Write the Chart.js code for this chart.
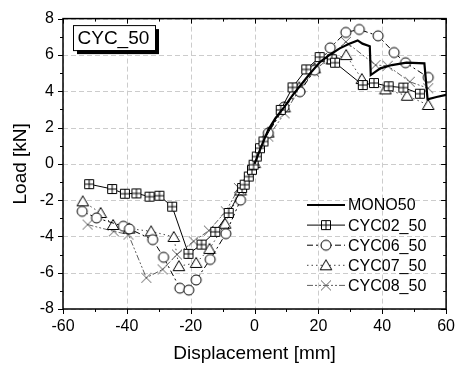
<!DOCTYPE html>
<html>
<head>
<meta charset="utf-8">
<script src="https://cdn.jsdelivr.net/npm/chart.js@4"></script>
<style>
  html, body { margin: 0; padding: 0; background: #fff; }
  canvas { display: block; }
</style>
</head>
<body>
<canvas id="chart" width="463" height="365"></canvas>
<script>
// Values
const xTicks = [-60, -40, -20, 0, 20, 40, 60];
const yTicks = [-8, -6, -4, -2, 0, 2, 4, 6, 8];

const monoX = [0, 1, 2, 3, 4.3, 6.5, 9.4, 12, 14.5, 17.5, 20.6, 23.5, 26.7, 29.5, 32.3, 33.8, 36.1, 36.4, 39.4, 43, 47.6, 53.2, 54.2, 57, 60];
const monoY = [0, 0.45, 0.9, 1.33, 1.87, 2.5, 3.15, 3.8, 4.34, 5.0, 5.62, 6.0, 6.36, 6.6, 6.8, 6.62, 6.48, 4.89, 5.26, 5.44, 5.57, 5.53, 3.55, 3.68, 3.8];

const cyc02X = [-51.8, -44.6, -40.6, -37, -32.9, -29.8, -25.8, -20.7, -16.6, -12.3, -8.1, -3.9, -3.1, -1.8, -0.8, -0.3, 0.7, 1.7, 2.8, 8.2, 11.9, 16.2, 20.4, 24.2, 25.2, 33.9, 37.4, 42, 46.6, 51.8];
const cyc02Y = [-1.12, -1.39, -1.65, -1.63, -1.81, -1.76, -2.36, -4.96, -4.45, -3.75, -2.71, -1.33, -1.15, -0.7, -0.33, -0.05, 0.4, 0.86, 1.23, 2.97, 4.21, 5.2, 5.88, 5.76, 5.57, 4.34, 4.45, 4.27, 4.2, 3.86];

const cyc06X = [-54, -49.5, -41.1, -39.2, -31.9, -28.5, -23.4, -20.6, -18.3, -13.9, -9, -4.4, 4.3, 9.2, 14.2, 18.8, 23.7, 28.6, 32.8, 38.7, 43.7, 47.3, 54.4];
const cyc06Y = [-2.62, -2.98, -3.44, -3.59, -4.18, -5.15, -6.85, -6.96, -6.4, -5.27, -3.85, -2.0, 1.69, 3.12, 3.97, 5.16, 6.39, 7.24, 7.4, 7.05, 6.13, 5.57, 4.76];

const cyc07X = [-53.8, -48.2, -44.3, -39.3, -32.4, -25.3, -23.7, -18.3, -14.1, -9.2, -4.4, 0, 4.3, 9.4, 14, 18.8, 24.2, 28.7, 33.6, 41, 47.8, 54.4];
const cyc07Y = [-2.07, -2.71, -3.37, -3.57, -3.72, -4.03, -5.64, -5.46, -4.69, -3.3, -1.47, 0.04, 1.72, 3.11, 4.21, 5.26, 5.75, 5.99, 4.67, 4.1, 3.75, 3.24];

const cyc08X = [-52.3, -44.1, -39.5, -33.9, -28.8, -24.3, -19.1, -14.3, -9, -4.9, 4.3, 9.4, 14.3, 18.6, 24.7, 28.6, 37.9, 41.7, 48.6, 54.4];
const cyc08Y = [-3.35, -3.72, -3.9, -6.28, -5.82, -5.0, -4.27, -3.68, -2.62, -1.34, 1.5, 2.78, 4.16, 5.07, 6.08, 6.72, 5.44, 5.4, 4.52, 4.16];

const seriesNames = ['MONO50', 'CYC02_50', 'CYC06_50', 'CYC07_50', 'CYC08_50'];
const chartTitle = 'CYC_50';

const FONT = '"Liberation Sans", Arial, sans-serif';
const GRAY = '#606060';

function pts(xs, ys) {
    return xs.map((x, i) => ({ x: x, y: ys[i] }));
}

// Marker images (used for points and in the legend)
function makeMarker(kind, color) {
    const s = 14;
    const c = document.createElement('canvas');
    c.width = s; c.height = s;
    const g = c.getContext('2d');
    const m = s / 2;
    g.strokeStyle = color;
    g.fillStyle = '#fff';
    g.lineWidth = 1;
    g.beginPath();
    if (kind === 'sqcross') {
        g.rect(m - 4.5, m - 4.5, 9, 9);
        g.fill(); g.stroke();
        g.beginPath();
        g.moveTo(m, m - 4.5); g.lineTo(m, m + 4.5);
        g.moveTo(m - 4.5, m); g.lineTo(m + 4.5, m);
        g.stroke();
    } else if (kind === 'circle') {
        g.arc(m, m, 5, 0, Math.PI * 2);
        g.fill(); g.stroke();
    } else if (kind === 'triangle') {
        g.moveTo(m, m - 5.5);
        g.lineTo(m + 5.8, m + 4.5);
        g.lineTo(m - 5.8, m + 4.5);
        g.closePath();
        g.fill(); g.stroke();
    } else if (kind === 'x') {
        g.moveTo(m - 5, m - 5); g.lineTo(m + 5, m + 5);
        g.moveTo(m + 5, m - 5); g.lineTo(m - 5, m + 5);
        g.stroke();
    }
    return c;
}

const mkSq = makeMarker('sqcross', '#000');
const mkCi = makeMarker('circle', '#000');
const mkTr = makeMarker('triangle', '#000');
const mkX = makeMarker('x', GRAY);

const datasets = [
    {
        label: seriesNames[0], data: pts(monoX, monoY),
        borderColor: '#000', borderWidth: 2.2, pointRadius: 0, order: 0
    },
    {
        label: seriesNames[1], data: pts(cyc02X, cyc02Y),
        borderColor: '#000', borderWidth: 1, pointStyle: mkSq, pointRadius: 5, order: 1
    },
    {
        label: seriesNames[2], data: pts(cyc06X, cyc06Y),
        borderColor: '#000', borderWidth: 1, borderDash: [6, 3, 2, 3], pointStyle: mkCi, pointRadius: 5, order: 2
    },
    {
        label: seriesNames[3], data: pts(cyc07X, cyc07Y),
        borderColor: '#444', borderWidth: 1, borderDash: [1.5, 3], pointStyle: mkTr, pointRadius: 5, order: 3
    },
    {
        label: seriesNames[4], data: pts(cyc08X, cyc08Y),
        borderColor: GRAY, borderWidth: 1, borderDash: [6, 2, 2, 2, 2, 2], pointStyle: mkX, pointRadius: 5, order: 4
    }
];
const legendMarkers = [null, mkSq, mkCi, mkTr, mkX];

// Dashed grid under the data
const dashedGrid = {
    id: 'dashedGrid',
    beforeDatasetsDraw(chart) {
        const ctx = chart.ctx;
        const a = chart.chartArea;
        const sx = chart.scales.x, sy = chart.scales.y;
        ctx.save();
        ctx.strokeStyle = '#cccccc';
        ctx.lineWidth = 1;
        ctx.setLineDash([5, 3]);
        ctx.beginPath();
        xTicks.forEach(v => {
            const px = Math.round(sx.getPixelForValue(v)) + 0.5;
            ctx.moveTo(px, a.top); ctx.lineTo(px, a.bottom);
        });
        yTicks.forEach(v => {
            const py = Math.round(sy.getPixelForValue(v)) + 0.5;
            ctx.moveTo(a.left, py); ctx.lineTo(a.right, py);
        });
        ctx.stroke();
        ctx.restore();
    }
};

// Frame, minor ticks, title box and legend
const decor = {
    id: 'decor',
    afterDraw(chart) {
        const ctx = chart.ctx;
        const a = chart.chartArea;
        const sx = chart.scales.x, sy = chart.scales.y;
        ctx.save();
        ctx.strokeStyle = '#000';
        ctx.lineWidth = 1.5;
        ctx.strokeRect(a.left, a.top, a.right - a.left, a.bottom - a.top);

        ctx.lineWidth = 1;
        ctx.beginPath();
        for (let v = -60; v <= 60; v += 10) {
            const px = Math.round(sx.getPixelForValue(v)) + 0.5;
            const len = v % 20 === 0 ? 5 : 3;
            ctx.moveTo(px, a.bottom); ctx.lineTo(px, a.bottom + len);
            ctx.moveTo(px, a.top); ctx.lineTo(px, a.top + len);
        }
        for (let v = -8; v <= 8; v += 1) {
            const py = Math.round(sy.getPixelForValue(v)) + 0.5;
            const len = v % 2 === 0 ? 5 : 3;
            ctx.moveTo(a.left, py); ctx.lineTo(a.left - len, py);
            ctx.moveTo(a.right, py); ctx.lineTo(a.right - len, py);
        }
        ctx.stroke();

        // title box with shadow
        const bx = a.left + 10, by = a.top + 6.5, bw = 82, bh = 25;
        ctx.fillStyle = '#000';
        ctx.fillRect(bx + 4, by + 4, bw, bh);
        ctx.fillStyle = '#fff';
        ctx.fillRect(bx, by, bw, bh);
        ctx.strokeRect(bx + 0.5, by + 0.5, bw, bh);
        ctx.fillStyle = '#000';
        ctx.font = '19px ' + FONT;
        ctx.textBaseline = 'middle';
        ctx.fillText(chartTitle, bx + 4.5, by + bh / 2 + 1);

        // legend
        const lx = 307, lw = 38;
        ctx.font = '16px ' + FONT;
        chart.data.datasets.forEach((ds, i) => {
            const ly = 205 + i * 20.1;
            ctx.save();
            ctx.strokeStyle = ds.borderColor;
            ctx.lineWidth = ds.borderWidth;
            ctx.setLineDash(ds.borderDash || []);
            ctx.beginPath();
            ctx.moveTo(lx, ly); ctx.lineTo(lx + lw, ly);
            ctx.stroke();
            ctx.restore();
            const mk = legendMarkers[i];
            if (mk) ctx.drawImage(mk, lx + lw / 2 - mk.width / 2, ly - mk.height / 2);
            ctx.fillStyle = '#000';
            ctx.fillText(ds.label, lx + lw + 3, ly + 1);
        });
        ctx.restore();
    }
};

new Chart(document.getElementById('chart'), {
    type: 'scatter',
    data: { datasets: datasets.map(d => Object.assign({ showLine: true, fill: false, tension: 0 }, d)) },
    options: {
        responsive: false,
        devicePixelRatio: 1,
        animation: false,
        layout: { padding: { left: 0, right: 7, top: 18, bottom: 0 } },
        plugins: { legend: { display: false }, tooltip: { enabled: false } },
        scales: {
            x: {
                type: 'linear', min: -60, max: 60,
                afterFit(s) { s.height = 56; },
                afterBuildTicks(s) { s.ticks = xTicks.map(v => ({ value: v })); },
                ticks: { color: '#000', font: { family: FONT, size: 16 }, padding: 8, maxRotation: 0 },
                grid: { display: false, drawTicks: false },
                border: { display: false },
                title: {
                    display: true, text: 'Displacement [mm]', color: '#000',
                    font: { family: FONT, size: 19 }, padding: { top: 4, bottom: 0 }
                }
            },
            y: {
                type: 'linear', min: -8, max: 8,
                afterFit(s) { s.width = 63; },
                afterBuildTicks(s) { s.ticks = yTicks.map(v => ({ value: v })); },
                ticks: { color: '#000', font: { family: FONT, size: 16 }, padding: 9 },
                grid: { display: false, drawTicks: false },
                border: { display: false },
                title: {
                    display: true, text: 'Load [kN]', color: '#000',
                    font: { family: FONT, size: 19 }, padding: { top: 9, bottom: 0 }
                }
            }
        }
    },
    plugins: [dashedGrid, decor]
});
</script>
</body>
</html>
